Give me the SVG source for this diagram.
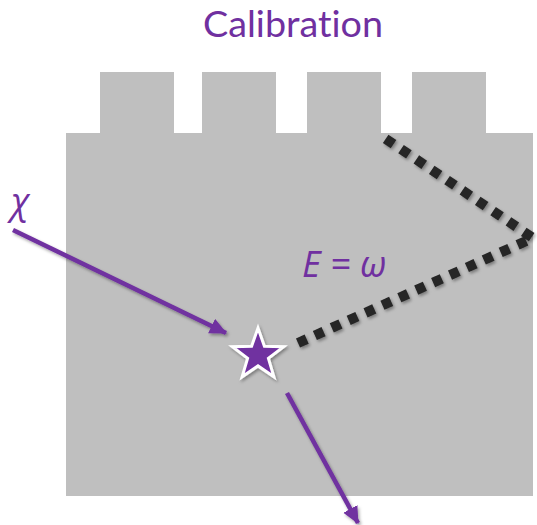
<svg xmlns="http://www.w3.org/2000/svg" width="537" height="525" viewBox="0 0 537 525">
<style>
.block{fill:#BFBFBF}
.purple{fill:#7030A0}
.arrow{stroke:#7030A0;stroke-width:4.5;fill:none;stroke-linecap:butt}
.dots{stroke:#262626;stroke-width:10;fill:none;stroke-dasharray:9.5 9}
.label{font-family:Lato,"Open Sans","Liberation Sans",sans-serif;fill:#7030A0;font-variant-ligatures:none}
.math{font-family:"Open Sans","DejaVu Sans",sans-serif;font-style:italic;fill:#7030A0}
</style>
<defs>
<marker id="ah" markerUnits="userSpaceOnUse" markerWidth="20" markerHeight="18" refX="16" refY="8" orient="auto">
<path d="M0,0 L17,8 L0,16 z" fill="#7030A0"/>
</marker>
<filter id="sh" x="-20%" y="-20%" width="140%" height="140%">
<feDropShadow dx="1.5" dy="2" stdDeviation="1.5" flood-color="#000" flood-opacity="0.35"/>
</filter>
</defs>
<g id="title"><text class="label" x="293" y="37" font-size="37" text-anchor="middle" textLength="180" lengthAdjust="spacingAndGlyphs">Calibration</text></g>
<g id="detector">
<rect class="block" x="66" y="133" width="467" height="363"/>
<rect class="block" x="100" y="72" width="74" height="62"/>
<rect class="block" x="202" y="72" width="74" height="62"/>
<rect class="block" x="307" y="72" width="74" height="62"/>
<rect class="block" x="412" y="72" width="74" height="62"/>
</g>
<g id="labels">
<text class="math" x="11" y="214" font-size="36">χ</text>
<text class="math" x="302" y="277" font-size="36">E = ω</text>
</g>
<g id="connectors" filter="url(#sh)">
<path class="arrow" d="M13,230 L226,333" marker-end="url(#ah)"/>
<path class="arrow" d="M287,393 L358,523" marker-end="url(#ah)"/>
<path class="dots" d="M298,343 L533,238 L380,135"/>
</g>
<g id="star" filter="url(#sh)">
<polygon class="purple" stroke="#fff" stroke-width="3" stroke-linejoin="miter" points="258.0,328.0 264.4,346.2 283.7,346.7 268.4,358.4 273.9,376.8 258.0,365.9 242.1,376.8 247.6,358.4 232.3,346.7 251.6,346.2"/>
</g>
</svg>
